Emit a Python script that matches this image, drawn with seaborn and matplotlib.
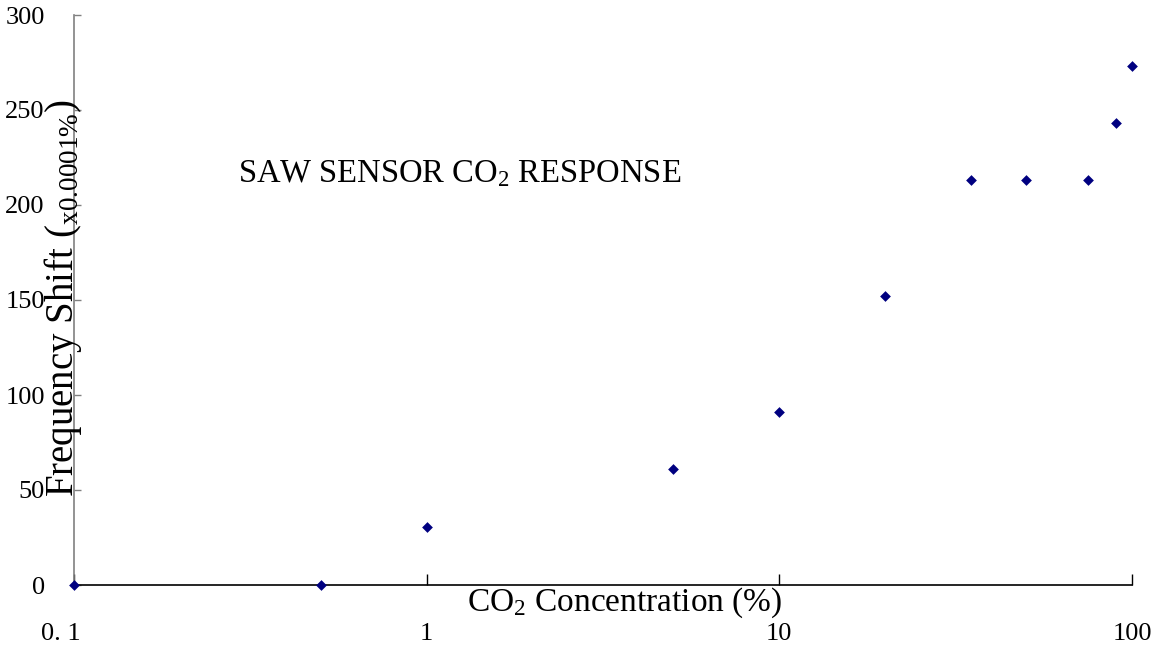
import matplotlib
matplotlib.use("Agg")
import matplotlib.pyplot as plt
import matplotlib.transforms as mtransforms
import seaborn as sns
import pandas as pd

# Data
concentration = [0.1, 0.5, 1, 5, 10, 20, 35, 50, 75, 90, 100]
freq_shift = [0, 0, 30.5, 61, 91, 152, 213, 213, 213, 243, 273]
x_ticks = [0.1, 1, 10, 100]
x_tick_labels = ["0. 1", "1", "10", "100"]
y_ticks = [0, 50, 100, 150, 200, 250, 300]
y_tick_labels = ["0", "50", "100", "150", "200", "250", "300"]

df = pd.DataFrame({"conc": concentration, "shift": freq_shift})

sns.set_style("white")
plt.rcParams["font.family"] = ["Liberation Serif", "DejaVu Serif"]
plt.rcParams["mathtext.fontset"] = "custom"
plt.rcParams["mathtext.rm"] = "Liberation Serif"
plt.rcParams["mathtext.it"] = "Liberation Serif:italic"
plt.rcParams["text.color"] = "black"
plt.rcParams["xtick.color"] = "black"
plt.rcParams["ytick.color"] = "black"

W, H = 1168, 645
fig = plt.figure(figsize=(W / 100, H / 100), dpi=100)
ax = fig.add_axes([74 / W, 1 - 585 / H, 1058 / W, 570 / H])

sns.scatterplot(data=df, x="conc", y="shift", marker="D", s=30,
                color="#000080", edgecolor="#000080", linewidth=0,
                ax=ax, clip_on=False, zorder=5, legend=False)

ax.set_xscale("log")
ax.set_xlim(0.1, 100)
ax.set_ylim(0, 300)
ax.set_xticks(x_ticks)
ax.set_xticklabels(x_tick_labels)
ax.xaxis.set_minor_locator(matplotlib.ticker.NullLocator())
ax.set_yticks(y_ticks)
ax.set_yticklabels(y_tick_labels)
ax.set_xlabel("")
ax.set_ylabel("")

for s in ["top", "right"]:
    ax.spines[s].set_visible(False)
ax.spines["left"].set_color("#808080")
ax.spines["left"].set_linewidth(1.2)
ax.spines["bottom"].set_color("black")
ax.spines["bottom"].set_linewidth(1.2)

ax.tick_params(axis="y", direction="in", length=5, width=1, color="#808080",
               labelcolor="black", pad=21, labelsize=19, left=True)
ax.tick_params(axis="x", direction="in", length=8, width=1, color="black",
               labelcolor="black", pad=27, labelsize=19, bottom=True)

# the "0. 1" label sits a little left of its tick in the reference
first = ax.get_xticklabels()[0]
first.set_transform(first.get_transform() +
                    mtransforms.ScaledTranslation(-0.13, 0, fig.dpi_scale_trans))

def px(x, y):
    return (x / W, 1 - y / H)

fig.text(*px(460, 182), "SAW SENSOR CO$_2$ RESPONSE", ha="center",
         va="baseline", fontsize=23.5)
fig.text(*px(625, 611), "CO$_2$ Concentration (%)", ha="center",
         va="baseline", fontsize=24)
fig.text(*px(63, 298), r"Frequency Shift ($\mathregular{_{x0.0001\%}}$)",
         ha="center", va="center", rotation=90, fontsize=28)

fig.savefig("out.png", dpi=100)
